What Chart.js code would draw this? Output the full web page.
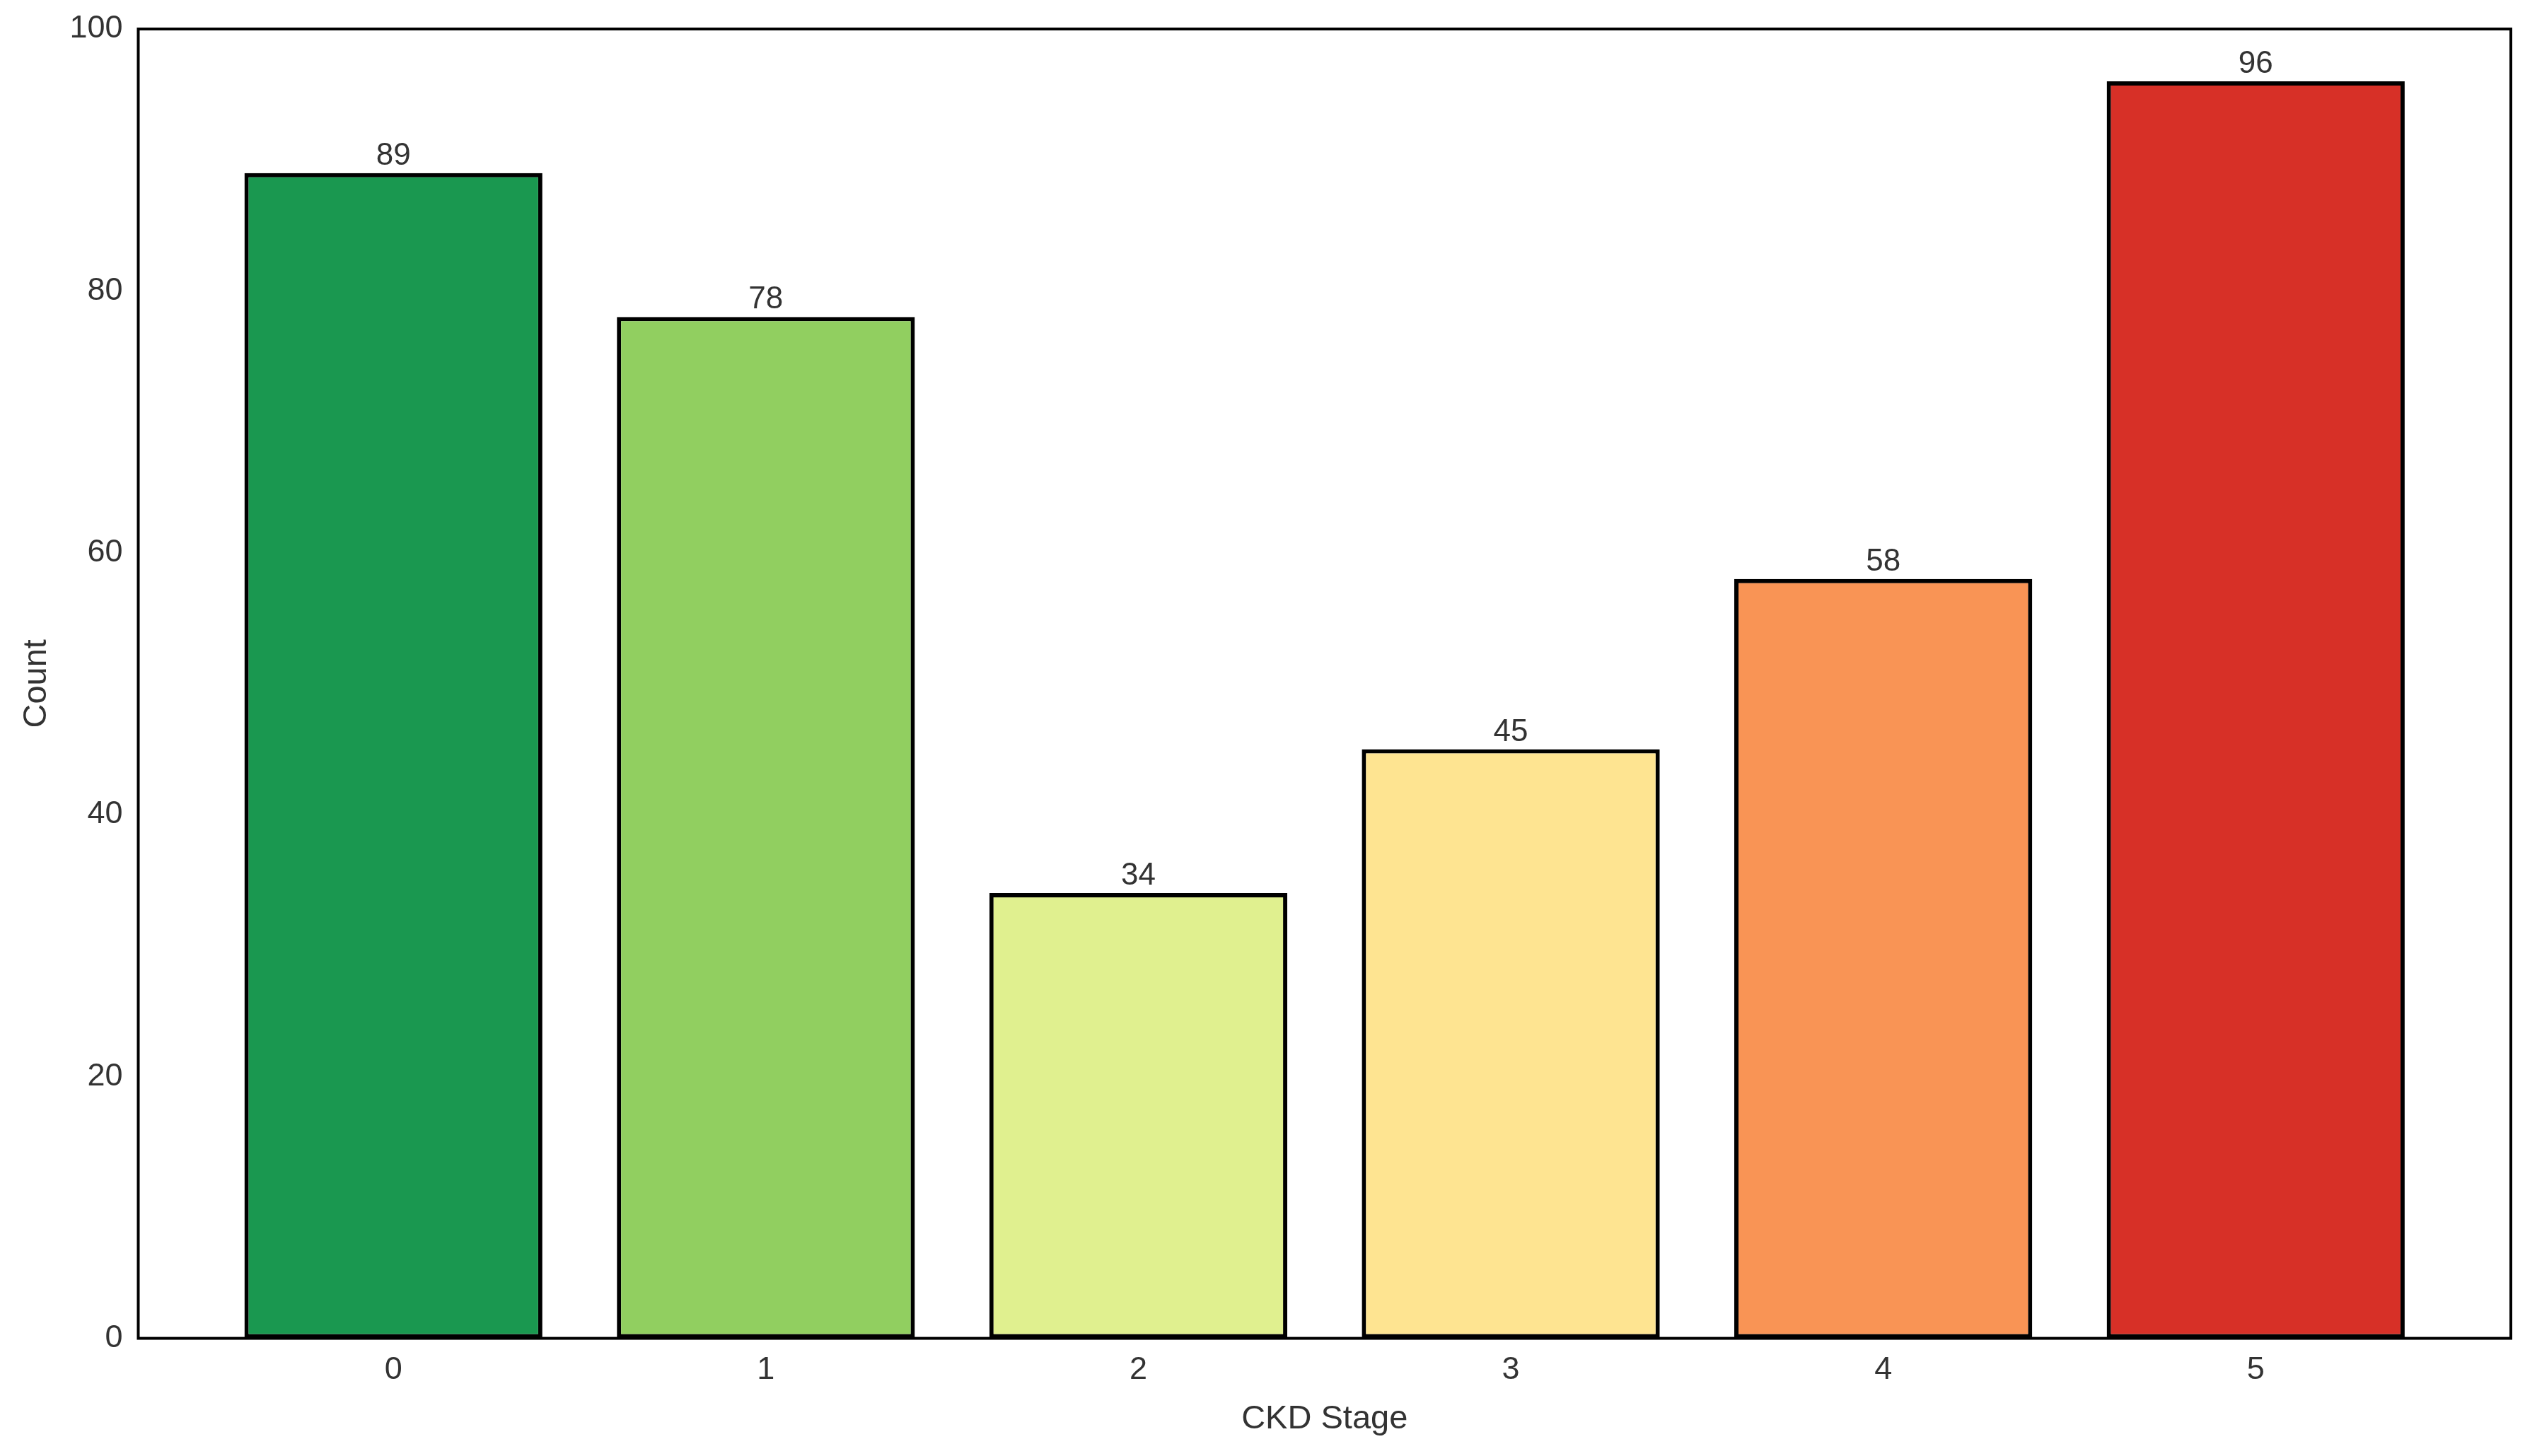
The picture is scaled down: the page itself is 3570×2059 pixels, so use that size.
<!DOCTYPE html>
<html><head><meta charset="utf-8">
<script src="https://cdn.jsdelivr.net/npm/chart.js@4/dist/chart.umd.min.js"></script>
<style>html,body{margin:0;padding:0;background:#fff}#w{width:3570px;height:2059px}</style>
</head><body><div id="w"><canvas id="c"></canvas></div>
<script>
const stages = [0,1,2,3,4,5];
const counts = [89,78,34,45,58,96];
const colors = ['#1a9850','#91cf60','#e0f08f','#fee491','#f99455','#d73027'];
const yTicks = [0,20,40,60,80,100];

const frame = {id:'frame', afterDraw(ch){
  const a=ch.chartArea, x=ch.ctx; x.save(); x.strokeStyle='#000'; x.lineWidth=4;
  x.strokeRect(a.left,a.top,a.right-a.left,a.bottom-a.top); x.restore();
}};
const labels = {id:'labels', afterDatasetsDraw(ch){
  const x=ch.ctx, m=ch.getDatasetMeta(0); x.save();
  x.font='44px "Liberation Sans", Arial'; x.fillStyle='#333'; x.textAlign='center'; x.textBaseline='bottom';
  m.data.forEach((b,i)=>x.fillText(String(counts[i]), b.x, b.y-2)); x.restore();
}};
new Chart(document.getElementById('c'),{
  type:'bar',
  data:{datasets:[{data:stages.map((s,i)=>({x:s,y:counts[i]})),backgroundColor:colors,borderColor:'#000',borderWidth:6,borderSkipped:false,barPercentage:0.8,categoryPercentage:1}]},
  options:{responsive:true,maintainAspectRatio:false,animation:false,
    layout:{padding:{left:20,right:20,top:30,bottom:20}},
    plugins:{legend:{display:false},tooltip:{enabled:false}},
    scales:{
      x:{type:'linear',offset:false,min:-0.685,max:5.685,grid:{display:false},border:{display:false},
        afterBuildTicks(ax){ax.ticks=stages.map(v=>({value:v}));},
        ticks:{font:{size:45,family:'"Liberation Sans", Arial'},color:'#333',padding:10},
        title:{display:true,text:'CKD Stage',font:{size:47,family:'"Liberation Sans", Arial'},color:'#333'}},
      y:{min:0,max:100,grid:{display:false},border:{display:false},
        afterBuildTicks(ax){ax.ticks=yTicks.map(v=>({value:v}));},
        ticks:{font:{size:45,family:'"Liberation Sans", Arial'},color:'#333',padding:14},
        title:{display:true,text:'Count',font:{size:47,family:'"Liberation Sans", Arial'},color:'#333'}}
    }},
  plugins:[frame,labels]
});
</script></body></html>
